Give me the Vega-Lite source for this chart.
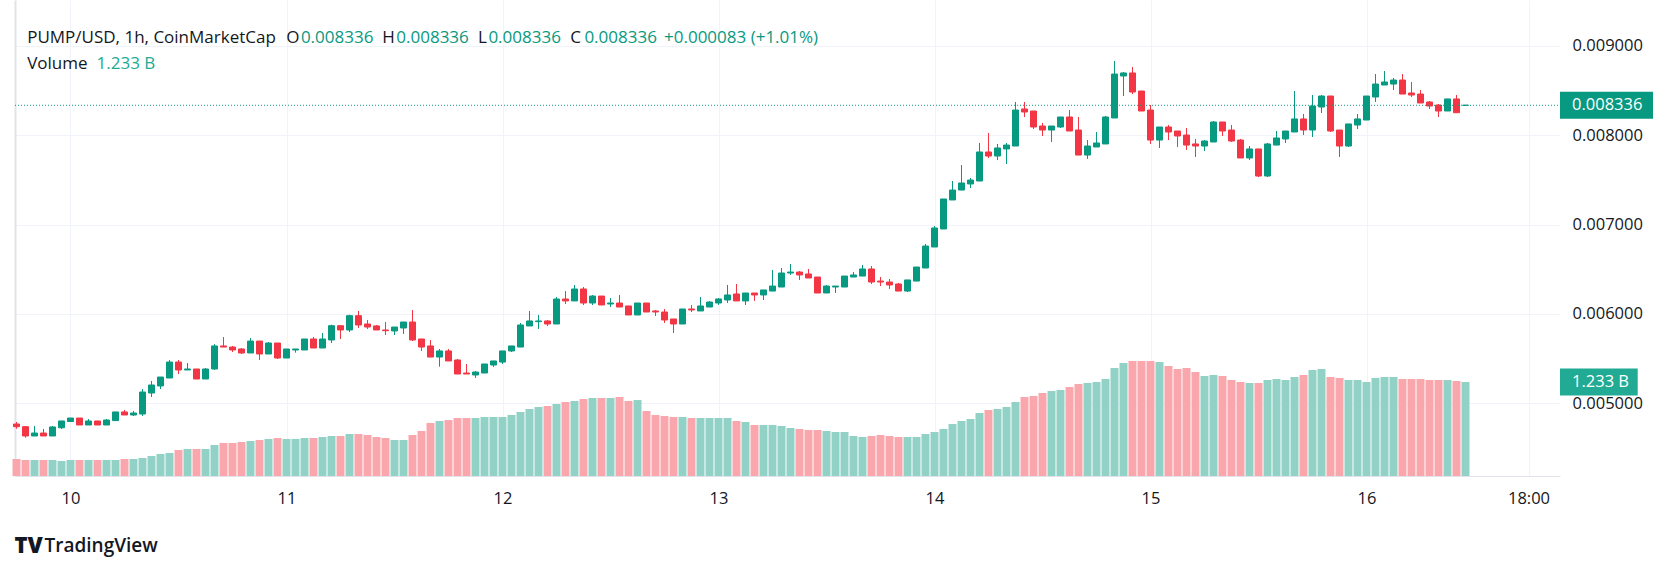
{
  "$schema": "https://vega.github.io/schema/vega-lite/v6.json",
  "width": 1545,
  "height": 476,
  "autosize": {"type": "none"},
  "padding": {"left": 15, "top": 0, "right": 114, "bottom": 95},
  "background": "#ffffff",
  "config": {"font": "Open Sans", "view": {"stroke": null}},
  "datasets": {
    "candles": [
      {"time":"2025-09-09T18:00:00Z","open":0.004767,"high":0.004790,"low":0.004714,"close":0.004737,"volume":223000000},
      {"time":"2025-09-09T19:00:00Z","open":0.004737,"high":0.004745,"low":0.004614,"close":0.004633,"volume":210000000},
      {"time":"2025-09-09T20:00:00Z","open":0.004633,"high":0.004745,"low":0.004633,"close":0.004666,"volume":210000000},
      {"time":"2025-09-09T21:00:00Z","open":0.004666,"high":0.004711,"low":0.004633,"close":0.004633,"volume":210000000},
      {"time":"2025-09-09T22:00:00Z","open":0.004633,"high":0.004745,"low":0.004633,"close":0.004734,"volume":210000000},
      {"time":"2025-09-09T23:00:00Z","open":0.004725,"high":0.004801,"low":0.004711,"close":0.004801,"volume":197000000},
      {"time":"2025-09-10T00:00:00Z","open":0.004795,"high":0.004834,"low":0.004790,"close":0.004834,"volume":210000000},
      {"time":"2025-09-10T01:00:00Z","open":0.004834,"high":0.004834,"low":0.004756,"close":0.004756,"volume":210000000},
      {"time":"2025-09-10T02:00:00Z","open":0.004756,"high":0.004823,"low":0.004756,"close":0.004801,"volume":210000000},
      {"time":"2025-09-10T03:00:00Z","open":0.004801,"high":0.004801,"low":0.004756,"close":0.004756,"volume":210000000},
      {"time":"2025-09-10T04:00:00Z","open":0.004756,"high":0.004823,"low":0.004756,"close":0.004812,"volume":210000000},
      {"time":"2025-09-10T05:00:00Z","open":0.004805,"high":0.004902,"low":0.004801,"close":0.004902,"volume":210000000},
      {"time":"2025-09-10T06:00:00Z","open":0.004902,"high":0.004924,"low":0.004868,"close":0.004868,"volume":223000000},
      {"time":"2025-09-10T07:00:00Z","open":0.004868,"high":0.004913,"low":0.004857,"close":0.004890,"volume":223000000},
      {"time":"2025-09-10T08:00:00Z","open":0.004879,"high":0.005159,"low":0.004857,"close":0.005125,"volume":236000000},
      {"time":"2025-09-10T09:00:00Z","open":0.005114,"high":0.005249,"low":0.005069,"close":0.005204,"volume":262000000},
      {"time":"2025-09-10T10:00:00Z","open":0.005193,"high":0.005293,"low":0.005159,"close":0.005293,"volume":289000000},
      {"time":"2025-09-10T11:00:00Z","open":0.005282,"high":0.005484,"low":0.005282,"close":0.005461,"volume":302000000},
      {"time":"2025-09-10T12:00:00Z","open":0.005461,"high":0.005484,"low":0.005327,"close":0.005372,"volume":341000000},
      {"time":"2025-09-10T13:00:00Z","open":0.005372,"high":0.005450,"low":0.005372,"close":0.005383,"volume":354000000},
      {"time":"2025-09-10T14:00:00Z","open":0.005383,"high":0.005383,"low":0.005271,"close":0.005271,"volume":354000000},
      {"time":"2025-09-10T15:00:00Z","open":0.005271,"high":0.005394,"low":0.005271,"close":0.005383,"volume":354000000},
      {"time":"2025-09-10T16:00:00Z","open":0.005383,"high":0.005662,"low":0.005372,"close":0.005641,"volume":407000000},
      {"time":"2025-09-10T17:00:00Z","open":0.005641,"high":0.005741,"low":0.005629,"close":0.005629,"volume":433000000},
      {"time":"2025-09-10T18:00:00Z","open":0.005629,"high":0.005641,"low":0.005573,"close":0.005596,"volume":433000000},
      {"time":"2025-09-10T19:00:00Z","open":0.005607,"high":0.005618,"low":0.005551,"close":0.005562,"volume":446000000},
      {"time":"2025-09-10T20:00:00Z","open":0.005562,"high":0.005730,"low":0.005562,"close":0.005696,"volume":459000000},
      {"time":"2025-09-10T21:00:00Z","open":0.005696,"high":0.005696,"low":0.005484,"close":0.005551,"volume":472000000},
      {"time":"2025-09-10T22:00:00Z","open":0.005551,"high":0.005685,"low":0.005551,"close":0.005674,"volume":486000000},
      {"time":"2025-09-10T23:00:00Z","open":0.005674,"high":0.005674,"low":0.005495,"close":0.005506,"volume":499000000},
      {"time":"2025-09-11T00:00:00Z","open":0.005506,"high":0.005607,"low":0.005506,"close":0.005607,"volume":486000000},
      {"time":"2025-09-11T01:00:00Z","open":0.005596,"high":0.005607,"low":0.005566,"close":0.005607,"volume":486000000},
      {"time":"2025-09-11T02:00:00Z","open":0.005596,"high":0.005719,"low":0.005596,"close":0.005719,"volume":499000000},
      {"time":"2025-09-11T03:00:00Z","open":0.005719,"high":0.005741,"low":0.005618,"close":0.005618,"volume":499000000},
      {"time":"2025-09-11T04:00:00Z","open":0.005618,"high":0.005786,"low":0.005618,"close":0.005719,"volume":512000000},
      {"time":"2025-09-11T05:00:00Z","open":0.005708,"high":0.005879,"low":0.005674,"close":0.005868,"volume":525000000},
      {"time":"2025-09-11T06:00:00Z","open":0.005868,"high":0.005868,"low":0.005719,"close":0.005820,"volume":525000000},
      {"time":"2025-09-11T07:00:00Z","open":0.005820,"high":0.005991,"low":0.005797,"close":0.005980,"volume":551000000},
      {"time":"2025-09-11T08:00:00Z","open":0.005980,"high":0.006033,"low":0.005842,"close":0.005876,"volume":551000000},
      {"time":"2025-09-11T09:00:00Z","open":0.005887,"high":0.005932,"low":0.005831,"close":0.005853,"volume":538000000},
      {"time":"2025-09-11T10:00:00Z","open":0.005865,"high":0.005876,"low":0.005820,"close":0.005820,"volume":512000000},
      {"time":"2025-09-11T11:00:00Z","open":0.005820,"high":0.005909,"low":0.005764,"close":0.005812,"volume":499000000},
      {"time":"2025-09-11T12:00:00Z","open":0.005809,"high":0.005853,"low":0.005764,"close":0.005853,"volume":472000000},
      {"time":"2025-09-11T13:00:00Z","open":0.005842,"high":0.005909,"low":0.005775,"close":0.005909,"volume":472000000},
      {"time":"2025-09-11T14:00:00Z","open":0.005909,"high":0.006044,"low":0.005696,"close":0.005708,"volume":538000000},
      {"time":"2025-09-11T15:00:00Z","open":0.005719,"high":0.005719,"low":0.005585,"close":0.005629,"volume":591000000},
      {"time":"2025-09-11T16:00:00Z","open":0.005641,"high":0.005708,"low":0.005517,"close":0.005517,"volume":696000000},
      {"time":"2025-09-11T17:00:00Z","open":0.005517,"high":0.005607,"low":0.005409,"close":0.005585,"volume":722000000},
      {"time":"2025-09-11T18:00:00Z","open":0.005585,"high":0.005607,"low":0.005473,"close":0.005473,"volume":735000000},
      {"time":"2025-09-11T19:00:00Z","open":0.005484,"high":0.005495,"low":0.005327,"close":0.005327,"volume":761000000},
      {"time":"2025-09-11T20:00:00Z","open":0.005338,"high":0.005439,"low":0.005327,"close":0.005327,"volume":761000000},
      {"time":"2025-09-11T21:00:00Z","open":0.005316,"high":0.005361,"low":0.005282,"close":0.005349,"volume":761000000},
      {"time":"2025-09-11T22:00:00Z","open":0.005338,"high":0.005439,"low":0.005338,"close":0.005439,"volume":774000000},
      {"time":"2025-09-11T23:00:00Z","open":0.005428,"high":0.005473,"low":0.005406,"close":0.005473,"volume":774000000},
      {"time":"2025-09-12T00:00:00Z","open":0.005461,"high":0.005585,"low":0.005439,"close":0.005585,"volume":774000000},
      {"time":"2025-09-12T01:00:00Z","open":0.005585,"high":0.005641,"low":0.005573,"close":0.005641,"volume":801000000},
      {"time":"2025-09-12T02:00:00Z","open":0.005629,"high":0.005898,"low":0.005629,"close":0.005876,"volume":840000000},
      {"time":"2025-09-12T03:00:00Z","open":0.005865,"high":0.006033,"low":0.005865,"close":0.005921,"volume":879000000},
      {"time":"2025-09-12T04:00:00Z","open":0.005913,"high":0.005988,"low":0.005831,"close":0.005921,"volume":906000000},
      {"time":"2025-09-12T05:00:00Z","open":0.005921,"high":0.005932,"low":0.005865,"close":0.005887,"volume":919000000},
      {"time":"2025-09-12T06:00:00Z","open":0.005887,"high":0.006189,"low":0.005887,"close":0.006167,"volume":945000000},
      {"time":"2025-09-12T07:00:00Z","open":0.006167,"high":0.006256,"low":0.006111,"close":0.006145,"volume":971000000},
      {"time":"2025-09-12T08:00:00Z","open":0.006145,"high":0.006324,"low":0.006145,"close":0.006279,"volume":984000000},
      {"time":"2025-09-12T09:00:00Z","open":0.006279,"high":0.006301,"low":0.006100,"close":0.006122,"volume":1010000000},
      {"time":"2025-09-12T10:00:00Z","open":0.006122,"high":0.006212,"low":0.006100,"close":0.006200,"volume":1024000000},
      {"time":"2025-09-12T11:00:00Z","open":0.006200,"high":0.006200,"low":0.006100,"close":0.006100,"volume":1024000000},
      {"time":"2025-09-12T12:00:00Z","open":0.006111,"high":0.006178,"low":0.006077,"close":0.006122,"volume":1024000000},
      {"time":"2025-09-12T13:00:00Z","open":0.006122,"high":0.006212,"low":0.006077,"close":0.006077,"volume":1037000000},
      {"time":"2025-09-12T14:00:00Z","open":0.006089,"high":0.006089,"low":0.005988,"close":0.005988,"volume":984000000},
      {"time":"2025-09-12T15:00:00Z","open":0.005988,"high":0.006122,"low":0.005988,"close":0.006122,"volume":997000000},
      {"time":"2025-09-12T16:00:00Z","open":0.006122,"high":0.006122,"low":0.006021,"close":0.006021,"volume":853000000},
      {"time":"2025-09-12T17:00:00Z","open":0.006033,"high":0.006044,"low":0.005977,"close":0.006021,"volume":801000000},
      {"time":"2025-09-12T18:00:00Z","open":0.006021,"high":0.006055,"low":0.005898,"close":0.005932,"volume":787000000},
      {"time":"2025-09-12T19:00:00Z","open":0.005943,"high":0.005943,"low":0.005786,"close":0.005887,"volume":774000000},
      {"time":"2025-09-12T20:00:00Z","open":0.005887,"high":0.006055,"low":0.005887,"close":0.006055,"volume":774000000},
      {"time":"2025-09-12T21:00:00Z","open":0.006055,"high":0.006100,"low":0.006021,"close":0.006044,"volume":761000000},
      {"time":"2025-09-12T22:00:00Z","open":0.006033,"high":0.006189,"low":0.006033,"close":0.006089,"volume":761000000},
      {"time":"2025-09-12T23:00:00Z","open":0.006077,"high":0.006145,"low":0.006077,"close":0.006133,"volume":761000000},
      {"time":"2025-09-13T00:00:00Z","open":0.006122,"high":0.006178,"low":0.006100,"close":0.006167,"volume":761000000},
      {"time":"2025-09-13T01:00:00Z","open":0.006156,"high":0.006324,"low":0.006122,"close":0.006212,"volume":761000000},
      {"time":"2025-09-13T02:00:00Z","open":0.006223,"high":0.006335,"low":0.006145,"close":0.006145,"volume":722000000},
      {"time":"2025-09-13T03:00:00Z","open":0.006145,"high":0.006234,"low":0.006100,"close":0.006234,"volume":709000000},
      {"time":"2025-09-13T04:00:00Z","open":0.006234,"high":0.006234,"low":0.006145,"close":0.006212,"volume":669000000},
      {"time":"2025-09-13T05:00:00Z","open":0.006212,"high":0.006268,"low":0.006156,"close":0.006268,"volume":669000000},
      {"time":"2025-09-13T06:00:00Z","open":0.006256,"high":0.006492,"low":0.006256,"close":0.006312,"volume":669000000},
      {"time":"2025-09-13T07:00:00Z","open":0.006301,"high":0.006514,"low":0.006301,"close":0.006458,"volume":656000000},
      {"time":"2025-09-13T08:00:00Z","open":0.006458,"high":0.006559,"low":0.006436,"close":0.006469,"volume":630000000},
      {"time":"2025-09-13T09:00:00Z","open":0.006469,"high":0.006480,"low":0.006380,"close":0.006436,"volume":617000000},
      {"time":"2025-09-13T10:00:00Z","open":0.006447,"high":0.006503,"low":0.006402,"close":0.006402,"volume":604000000},
      {"time":"2025-09-13T11:00:00Z","open":0.006413,"high":0.006413,"low":0.006234,"close":0.006234,"volume":604000000},
      {"time":"2025-09-13T12:00:00Z","open":0.006234,"high":0.006324,"low":0.006234,"close":0.006312,"volume":591000000},
      {"time":"2025-09-13T13:00:00Z","open":0.006301,"high":0.006312,"low":0.006234,"close":0.006312,"volume":577000000},
      {"time":"2025-09-13T14:00:00Z","open":0.006301,"high":0.006424,"low":0.006301,"close":0.006424,"volume":577000000},
      {"time":"2025-09-13T15:00:00Z","open":0.006413,"high":0.006469,"low":0.006413,"close":0.006436,"volume":525000000},
      {"time":"2025-09-13T16:00:00Z","open":0.006424,"high":0.006548,"low":0.006424,"close":0.006503,"volume":512000000},
      {"time":"2025-09-13T17:00:00Z","open":0.006503,"high":0.006536,"low":0.006335,"close":0.006357,"volume":525000000},
      {"time":"2025-09-13T18:00:00Z","open":0.006368,"high":0.006413,"low":0.006312,"close":0.006357,"volume":538000000},
      {"time":"2025-09-13T19:00:00Z","open":0.006357,"high":0.006391,"low":0.006279,"close":0.006324,"volume":525000000},
      {"time":"2025-09-13T20:00:00Z","open":0.006335,"high":0.006346,"low":0.006256,"close":0.006256,"volume":512000000},
      {"time":"2025-09-13T21:00:00Z","open":0.006256,"high":0.006380,"low":0.006245,"close":0.006380,"volume":512000000},
      {"time":"2025-09-13T22:00:00Z","open":0.006368,"high":0.006525,"low":0.006368,"close":0.006525,"volume":512000000},
      {"time":"2025-09-13T23:00:00Z","open":0.006514,"high":0.006783,"low":0.006514,"close":0.006760,"volume":551000000},
      {"time":"2025-09-14T00:00:00Z","open":0.006749,"high":0.006984,"low":0.006749,"close":0.006962,"volume":577000000},
      {"time":"2025-09-14T01:00:00Z","open":0.006951,"high":0.007287,"low":0.006951,"close":0.007287,"volume":617000000},
      {"time":"2025-09-14T02:00:00Z","open":0.007276,"high":0.007488,"low":0.007276,"close":0.007387,"volume":682000000},
      {"time":"2025-09-14T03:00:00Z","open":0.007387,"high":0.007667,"low":0.007387,"close":0.007466,"volume":722000000},
      {"time":"2025-09-14T04:00:00Z","open":0.007455,"high":0.007522,"low":0.007410,"close":0.007499,"volume":748000000},
      {"time":"2025-09-14T05:00:00Z","open":0.007488,"high":0.007914,"low":0.007488,"close":0.007813,"volume":827000000},
      {"time":"2025-09-14T06:00:00Z","open":0.007813,"high":0.008026,"low":0.007746,"close":0.007768,"volume":866000000},
      {"time":"2025-09-14T07:00:00Z","open":0.007768,"high":0.007903,"low":0.007723,"close":0.007858,"volume":879000000},
      {"time":"2025-09-14T08:00:00Z","open":0.007847,"high":0.007914,"low":0.007679,"close":0.007891,"volume":906000000},
      {"time":"2025-09-14T09:00:00Z","open":0.007880,"high":0.008373,"low":0.007880,"close":0.008283,"volume":971000000},
      {"time":"2025-09-14T10:00:00Z","open":0.008295,"high":0.008373,"low":0.008205,"close":0.008261,"volume":1037000000},
      {"time":"2025-09-14T11:00:00Z","open":0.008272,"high":0.008272,"low":0.008071,"close":0.008093,"volume":1050000000},
      {"time":"2025-09-14T12:00:00Z","open":0.008104,"high":0.008138,"low":0.007992,"close":0.008059,"volume":1089000000},
      {"time":"2025-09-14T13:00:00Z","open":0.008059,"high":0.008104,"low":0.007925,"close":0.008104,"volume":1115000000},
      {"time":"2025-09-14T14:00:00Z","open":0.008093,"high":0.008205,"low":0.008082,"close":0.008205,"volume":1129000000},
      {"time":"2025-09-14T15:00:00Z","open":0.008205,"high":0.008283,"low":0.008048,"close":0.008048,"volume":1168000000},
      {"time":"2025-09-14T16:00:00Z","open":0.008059,"high":0.008205,"low":0.007779,"close":0.007779,"volume":1207000000},
      {"time":"2025-09-14T17:00:00Z","open":0.007779,"high":0.007947,"low":0.007735,"close":0.007880,"volume":1220000000},
      {"time":"2025-09-14T18:00:00Z","open":0.007869,"high":0.008037,"low":0.007869,"close":0.007914,"volume":1234000000},
      {"time":"2025-09-14T19:00:00Z","open":0.007903,"high":0.008216,"low":0.007903,"close":0.008205,"volume":1273000000},
      {"time":"2025-09-14T20:00:00Z","open":0.008194,"high":0.008832,"low":0.008194,"close":0.008686,"volume":1417000000},
      {"time":"2025-09-14T21:00:00Z","open":0.008664,"high":0.008709,"low":0.008440,"close":0.008698,"volume":1483000000},
      {"time":"2025-09-14T22:00:00Z","open":0.008698,"high":0.008765,"low":0.008462,"close":0.008485,"volume":1509000000},
      {"time":"2025-09-14T23:00:00Z","open":0.008496,"high":0.008496,"low":0.008272,"close":0.008272,"volume":1509000000},
      {"time":"2025-09-15T00:00:00Z","open":0.008283,"high":0.008339,"low":0.007903,"close":0.007947,"volume":1509000000},
      {"time":"2025-09-15T01:00:00Z","open":0.007947,"high":0.008093,"low":0.007858,"close":0.008093,"volume":1496000000},
      {"time":"2025-09-15T02:00:00Z","open":0.008093,"high":0.008115,"low":0.007947,"close":0.008037,"volume":1444000000},
      {"time":"2025-09-15T03:00:00Z","open":0.008048,"high":0.008048,"low":0.007869,"close":0.007992,"volume":1404000000},
      {"time":"2025-09-15T04:00:00Z","open":0.008003,"high":0.008082,"low":0.007835,"close":0.007891,"volume":1417000000},
      {"time":"2025-09-15T05:00:00Z","open":0.007903,"high":0.007959,"low":0.007757,"close":0.007880,"volume":1365000000},
      {"time":"2025-09-15T06:00:00Z","open":0.007880,"high":0.007947,"low":0.007824,"close":0.007936,"volume":1312000000},
      {"time":"2025-09-15T07:00:00Z","open":0.007925,"high":0.008160,"low":0.007925,"close":0.008149,"volume":1325000000},
      {"time":"2025-09-15T08:00:00Z","open":0.008149,"high":0.008149,"low":0.007992,"close":0.008048,"volume":1312000000},
      {"time":"2025-09-15T09:00:00Z","open":0.008059,"high":0.008115,"low":0.007925,"close":0.007936,"volume":1260000000},
      {"time":"2025-09-15T10:00:00Z","open":0.007947,"high":0.007959,"low":0.007746,"close":0.007746,"volume":1234000000},
      {"time":"2025-09-15T11:00:00Z","open":0.007746,"high":0.007880,"low":0.007723,"close":0.007847,"volume":1220000000},
      {"time":"2025-09-15T12:00:00Z","open":0.007847,"high":0.007847,"low":0.007533,"close":0.007544,"volume":1220000000},
      {"time":"2025-09-15T13:00:00Z","open":0.007544,"high":0.007914,"low":0.007533,"close":0.007903,"volume":1260000000},
      {"time":"2025-09-15T14:00:00Z","open":0.007891,"high":0.008048,"low":0.007891,"close":0.007970,"volume":1273000000},
      {"time":"2025-09-15T15:00:00Z","open":0.007959,"high":0.008048,"low":0.007914,"close":0.008048,"volume":1260000000},
      {"time":"2025-09-15T16:00:00Z","open":0.008037,"high":0.008496,"low":0.008037,"close":0.008183,"volume":1299000000},
      {"time":"2025-09-15T17:00:00Z","open":0.008183,"high":0.008239,"low":0.008003,"close":0.008059,"volume":1325000000},
      {"time":"2025-09-15T18:00:00Z","open":0.008059,"high":0.008451,"low":0.007981,"close":0.008328,"volume":1391000000},
      {"time":"2025-09-15T19:00:00Z","open":0.008317,"high":0.008451,"low":0.008250,"close":0.008440,"volume":1404000000},
      {"time":"2025-09-15T20:00:00Z","open":0.008440,"high":0.008440,"low":0.008037,"close":0.008048,"volume":1299000000},
      {"time":"2025-09-15T21:00:00Z","open":0.008059,"high":0.008059,"low":0.007757,"close":0.007880,"volume":1286000000},
      {"time":"2025-09-15T22:00:00Z","open":0.007880,"high":0.008127,"low":0.007869,"close":0.008127,"volume":1260000000},
      {"time":"2025-09-15T23:00:00Z","open":0.008115,"high":0.008239,"low":0.008071,"close":0.008183,"volume":1260000000},
      {"time":"2025-09-16T00:00:00Z","open":0.008171,"high":0.008440,"low":0.008171,"close":0.008440,"volume":1234000000},
      {"time":"2025-09-16T01:00:00Z","open":0.008429,"high":0.008686,"low":0.008373,"close":0.008574,"volume":1286000000},
      {"time":"2025-09-16T02:00:00Z","open":0.008563,"high":0.008720,"low":0.008563,"close":0.008597,"volume":1299000000},
      {"time":"2025-09-16T03:00:00Z","open":0.008574,"high":0.008642,"low":0.008507,"close":0.008619,"volume":1299000000},
      {"time":"2025-09-16T04:00:00Z","open":0.008619,"high":0.008686,"low":0.008462,"close":0.008462,"volume":1273000000},
      {"time":"2025-09-16T05:00:00Z","open":0.008474,"high":0.008597,"low":0.008429,"close":0.008451,"volume":1273000000},
      {"time":"2025-09-16T06:00:00Z","open":0.008462,"high":0.008507,"low":0.008362,"close":0.008362,"volume":1273000000},
      {"time":"2025-09-16T07:00:00Z","open":0.008373,"high":0.008384,"low":0.008295,"close":0.008328,"volume":1260000000},
      {"time":"2025-09-16T08:00:00Z","open":0.008339,"high":0.008351,"low":0.008205,"close":0.008272,"volume":1260000000},
      {"time":"2025-09-16T09:00:00Z","open":0.008272,"high":0.008407,"low":0.008272,"close":0.008407,"volume":1260000000},
      {"time":"2025-09-16T10:00:00Z","open":0.008407,"high":0.008451,"low":0.008253,"close":0.008253,"volume":1247000000},
      {"time":"2025-09-16T11:00:00Z","open":0.008336,"high":0.008336,"low":0.008336,"close":0.008336,"volume":1233000000}
    ]
  },
  "data": {"name": "candles"},
  "encoding": {
    "x": {
      "field": "time",
      "type": "temporal",
      "scale": {
        "type": "utc",
        "padding": 0,
        "domain": [
          {"year": 2025, "month": 9, "date": 9, "hours": 17, "minutes": 50, "utc": true},
          {"year": 2025, "month": 9, "date": 16, "hours": 21, "minutes": 30, "utc": true}
        ]
      },
      "axis": {
        "values": [
          {"year": 2025, "month": 9, "date": 10, "utc": true},
          {"year": 2025, "month": 9, "date": 11, "utc": true},
          {"year": 2025, "month": 9, "date": 12, "utc": true},
          {"year": 2025, "month": 9, "date": 13, "utc": true},
          {"year": 2025, "month": 9, "date": 14, "utc": true},
          {"year": 2025, "month": 9, "date": 15, "utc": true},
          {"year": 2025, "month": 9, "date": 16, "utc": true},
          {"year": 2025, "month": 9, "date": 16, "hours": 18, "utc": true}
        ],
        "labelExpr": "utchours(datum.value) == 18 ? '18:00' : '' + utcdate(datum.value)",
        "grid": true,
        "gridColor": "#f0f3fa",
        "domain": true,
        "domainColor": "#e0e3eb",
        "ticks": false,
        "tickSize": 0,
        "labelPadding": 22,
        "labelBaseline": "middle",
        "labelFontSize": 16.5,
        "labelColor": "#131722",
        "labelFlush": false,
        "labelOverlap": false,
        "title": "TradingView",
        "titleX": 29,
        "titleY": 69,
        "titleAlign": "left",
        "titleAnchor": "start",
        "titleBaseline": "middle",
        "titleFontSize": 19,
        "titleFontWeight": 600,
        "titleColor": "#131722"
      }
    }
  },
  "layer": [
    {
      "encoding": {
        "y": {
          "field": "volume",
          "type": "quantitative",
          "scale": {"domain": [0, 6246700000], "nice": false, "zero": true, "padding": 0},
          "axis": {
            "orient": "left",
            "domain": true,
            "domainColor": "#e0e3eb",
            "domainWidth": 2,
            "ticks": false,
            "labels": false,
            "grid": false,
            "title": "TV",
            "titleX": -1,
            "titleY": 545,
            "titleAngle": 0,
            "titleAlign": "left",
            "titleBaseline": "middle",
            "titleFontSize": 22,
            "titleFontWeight": 900,
            "titleColor": "#131722"
          }
        }
      },
      "layer": [
        {
          "mark": {"type": "bar", "size": 8},
          "encoding": {
            "color": {
              "condition": {"test": "datum.close >= datum.open", "value": "#91d1c6"},
              "value": "#f9a6ac"
            }
          }
        },
        {
          "transform": [{"filter": {"field": "time", "equal": {"year": 2025, "month": 9, "date": 16, "hours": 11, "utc": true}}}],
          "mark": {"type": "point", "shape": "M0.945,-0.135H1.722V0.135H0.945Z", "size": 40000, "filled": true, "opacity": 1, "color": "#22ab94", "strokeWidth": 0}
        },
        {
          "transform": [{"filter": {"field": "time", "equal": {"year": 2025, "month": 9, "date": 16, "hours": 11, "utc": true}}}],
          "mark": {"type": "text", "align": "left", "baseline": "middle", "color": "#ffffff", "fontSize": 16.5, "dx": 106.5},
          "encoding": {"text": {"value": "1.233 B"}}
        }
      ]
    },
    {
      "layer": [
        {
          "mark": {"type": "rule", "strokeWidth": 1},
          "encoding": {
            "y": {
              "field": "low",
              "type": "quantitative",
              "scale": {"domain": [0.0041848, 0.0095151], "nice": false, "zero": false, "padding": 0},
              "axis": {
                "orient": "right",
                "values": [0.005, 0.006, 0.007, 0.008, 0.009],
                "format": ".6f",
                "grid": true,
                "gridColor": "#f0f3fa",
                "domain": false,
                "ticks": false,
                "tickSize": 0,
                "labelPadding": 12,
                "labelFontSize": 16.5,
                "labelColor": "#131722",
                "title": null
              }
            },
            "y2": {"field": "high"},
            "color": {
              "condition": {"test": "datum.close >= datum.open", "value": "#089981"},
              "value": "#f23645"
            }
          }
        },
        {
          "mark": {"type": "bar", "size": 6, "strokeWidth": 1},
          "encoding": {
            "y": {"field": "open", "type": "quantitative"},
            "y2": {"field": "close"},
            "color": {
              "condition": {"test": "datum.close >= datum.open", "value": "#089981"},
              "value": "#f23645"
            },
            "stroke": {
              "condition": {"test": "datum.close >= datum.open", "value": "#089981"},
              "value": "#f23645"
            }
          }
        },
        {
          "transform": [{"filter": {"field": "time", "equal": {"year": 2025, "month": 9, "date": 16, "hours": 11, "utc": true}}}],
          "mark": {"type": "rule", "color": "#089981", "strokeWidth": 1, "strokeDash": [1, 2]},
          "encoding": {
            "x": {"value": 0},
            "x2": {"value": "width"},
            "y": {"field": "close", "type": "quantitative"}
          }
        },
        {
          "transform": [{"filter": {"field": "time", "equal": {"year": 2025, "month": 9, "date": 16, "hours": 11, "utc": true}}}],
          "mark": {"type": "point", "shape": "M0.945,-0.135H1.875V0.135H0.945Z", "size": 40000, "filled": true, "opacity": 1, "color": "#089981", "strokeWidth": 0},
          "encoding": {"y": {"field": "close", "type": "quantitative"}}
        },
        {
          "transform": [{"filter": {"field": "time", "equal": {"year": 2025, "month": 9, "date": 16, "hours": 11, "utc": true}}}],
          "mark": {"type": "text", "align": "left", "baseline": "middle", "color": "#ffffff", "fontSize": 16.5, "dx": 106.5},
          "encoding": {
            "y": {"field": "close", "type": "quantitative"},
            "text": {"field": "close", "format": ".6f"}
          }
        },
        {
          "encoding": {
            "x": {"aggregate": "min", "field": "time", "type": "temporal"},
            "y": {"aggregate": "max", "field": "high", "type": "quantitative"}
          },
          "layer": [
            {"mark": {"type": "text", "align": "left", "baseline": "middle", "fontSize": 17, "dx": 10.7, "dy": -23, "color": "#131722"},
             "encoding": {"text": {"value": "PUMP/USD, 1h, CoinMarketCap"}}},
            {"mark": {"type": "text", "align": "left", "baseline": "middle", "fontSize": 17, "dx": 269.8, "dy": -23, "color": "#131722"},
             "encoding": {"text": {"value": "O"}}},
            {"mark": {"type": "text", "align": "left", "baseline": "middle", "fontSize": 17, "dx": 284.4, "dy": -23, "color": "#089981"},
             "encoding": {"text": {"value": "0.008336"}}},
            {"mark": {"type": "text", "align": "left", "baseline": "middle", "fontSize": 17, "dx": 365.7, "dy": -23, "color": "#131722"},
             "encoding": {"text": {"value": "H"}}},
            {"mark": {"type": "text", "align": "left", "baseline": "middle", "fontSize": 17, "dx": 379.8, "dy": -23, "color": "#089981"},
             "encoding": {"text": {"value": "0.008336"}}},
            {"mark": {"type": "text", "align": "left", "baseline": "middle", "fontSize": 17, "dx": 461.6, "dy": -23, "color": "#131722"},
             "encoding": {"text": {"value": "L"}}},
            {"mark": {"type": "text", "align": "left", "baseline": "middle", "fontSize": 17, "dx": 471.9, "dy": -23, "color": "#089981"},
             "encoding": {"text": {"value": "0.008336"}}},
            {"mark": {"type": "text", "align": "left", "baseline": "middle", "fontSize": 17, "dx": 553.8, "dy": -23, "color": "#131722"},
             "encoding": {"text": {"value": "C"}}},
            {"mark": {"type": "text", "align": "left", "baseline": "middle", "fontSize": 17, "dx": 567.9, "dy": -23, "color": "#089981"},
             "encoding": {"text": {"value": "0.008336"}}},
            {"mark": {"type": "text", "align": "left", "baseline": "middle", "fontSize": 17, "dx": 647.5, "dy": -23, "color": "#089981"},
             "encoding": {"text": {"value": "+0.000083 (+1.01%)"}}},
            {"mark": {"type": "text", "align": "left", "baseline": "middle", "fontSize": 17, "dx": 10.7, "dy": 3, "color": "#131722"},
             "encoding": {"text": {"value": "Volume"}}},
            {"mark": {"type": "text", "align": "left", "baseline": "middle", "fontSize": 17, "dx": 80.1, "dy": 3, "color": "#22ab94"},
             "encoding": {"text": {"value": "1.233 B"}}}
          ]
        }
      ]
    }
  ],
  "resolve": {"scale": {"y": "independent"}}
}
